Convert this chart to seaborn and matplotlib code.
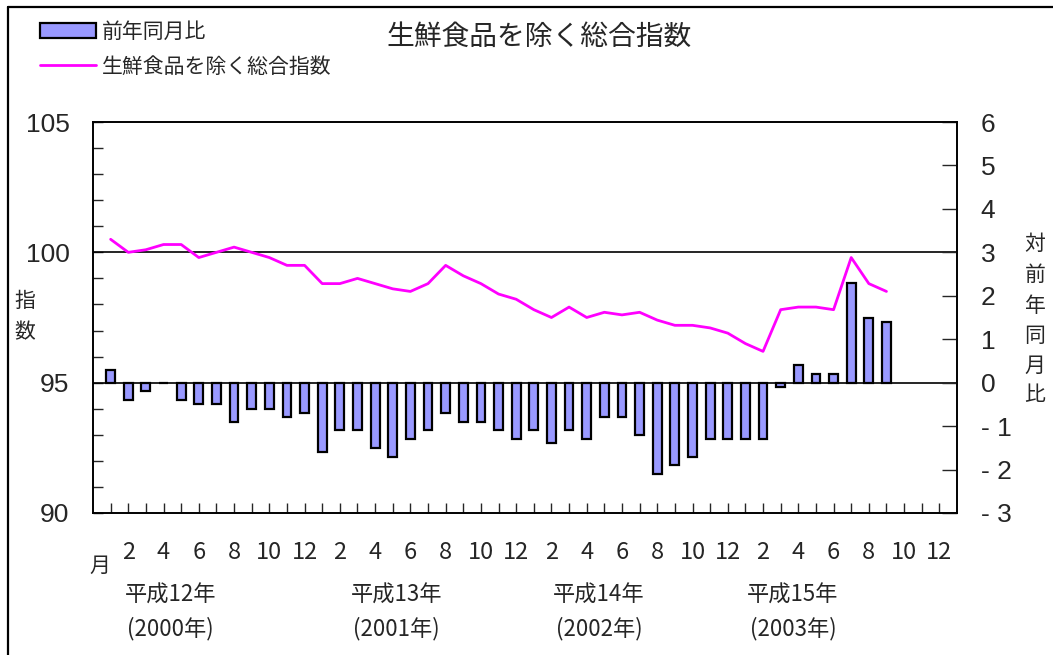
import matplotlib
matplotlib.use("Agg")
import matplotlib.pyplot as plt
import seaborn as sns
from matplotlib.patches import Patch
from matplotlib.lines import Line2D
from matplotlib.ticker import FixedLocator, FixedFormatter, MultipleLocator
from matplotlib.transforms import blended_transform_factory

# months counted from Jan 2000 (1) to Sep 2003 (45)
months = list(range(1, 46))

# 生鮮食品を除く総合指数 (left axis)
index_vals = [100.5, 100.0, 100.1, 100.3, 100.3, 99.8, 100.0, 100.2, 100.0, 99.8, 99.5, 99.5,
              98.8, 98.8, 99.0, 98.8, 98.6, 98.5, 98.8, 99.5, 99.1, 98.8, 98.4, 98.2,
              97.8, 97.5, 97.9, 97.5, 97.7, 97.6, 97.7, 97.4, 97.2, 97.2, 97.1, 96.9,
              96.5, 96.2, 97.8, 97.9, 97.9, 97.8, 99.8, 98.8, 98.5]

# 前年同月比 (right axis, %)
yoy_vals = [0.3, -0.4, -0.2, 0.0, -0.4, -0.5, -0.5, -0.9, -0.6, -0.6, -0.8, -0.7,
            -1.6, -1.1, -1.1, -1.5, -1.7, -1.3, -1.1, -0.7, -0.9, -0.9, -1.1, -1.3,
            -1.1, -1.4, -1.1, -1.3, -0.8, -0.8, -1.2, -2.1, -1.9, -1.7, -1.3, -1.3,
            -1.3, -1.3, -0.1, 0.4, 0.2, 0.2, 2.3, 1.5, 1.4]

month_ticks = list(range(1, 49))
month_labels = [str((m - 1) % 12 + 1) if m % 2 == 0 else "" for m in month_ticks]
right_ticks = list(range(-3, 7))
right_labels = ["- 3", "- 2", "- 1", "0", "1", "2", "3", "4", "5", "6"]
year_labels = ["平成12年\n(2000年)", "平成13年\n(2001年)", "平成14年\n(2002年)", "平成15年\n(2003年)"]
year_pos = [4.4, 17.2, 28.7, 39.7]

sns.set_style("white")
plt.rcParams["font.family"] = ["Liberation Sans", "Noto Sans CJK JP", "DejaVu Sans"]
narrow = ["Liberation Sans Narrow", "Noto Sans CJK JP", "DejaVu Sans"]

fig = plt.figure(figsize=(10.53, 6.55), dpi=100)
ax = fig.add_axes([93 / 1053, 1 - 513 / 655, (957 - 93) / 1053, (513 - 122) / 655])
ax2 = ax.twinx()

# index line and reference lines
ax.axhline(100, color="black", lw=1.2, zorder=1)
ax.axhline(95, color="black", lw=1.2, zorder=1)
sns.lineplot(x=months, y=index_vals, ax=ax, color="#FF00FF", linewidth=2.0)

# year-on-year bars
sns.barplot(x=months, y=yoy_vals, ax=ax2, native_scale=True, width=0.5,
            color="#9999FF", saturation=1, edgecolor="black", linewidth=1.6,
            errorbar=None)

ax.set_xlim(0, 49)
ax.set_ylim(90, 105)
ax2.set_ylim(-3, 6)

ax.yaxis.set_major_locator(FixedLocator([90, 95, 100, 105]))
ax.yaxis.set_minor_locator(MultipleLocator(1))
ax.tick_params(axis="y", which="both", direction="in", length=7, width=1,
               labelsize=19, pad=17, left=True, right=False)
ax.xaxis.set_major_locator(FixedLocator(month_ticks))
ax.xaxis.set_major_formatter(FixedFormatter(month_labels))
ax.tick_params(axis="x", direction="in", length=7, width=1, pad=20, bottom=True)
for lab in ax.get_xticklabels():
    lab.set_family(narrow)
    lab.set_fontsize(17)

ax2.yaxis.set_major_locator(FixedLocator(right_ticks))
ax2.yaxis.set_major_formatter(FixedFormatter(right_labels))
ax2.tick_params(axis="y", direction="in", length=11, width=1, labelsize=19, pad=17,
                right=True, left=False)
ax2.tick_params(axis="x", bottom=False, top=False, labelbottom=False)
ax2.set_xlabel("")
ax2.set_ylabel("")
ax.set_xlabel("")
ax.set_ylabel("")

for a in (ax, ax2):
    for sp in a.spines.values():
        sp.set_visible(True)
        sp.set_color("black")
        sp.set_linewidth(1.2)

# year captions under the month labels
trans = blended_transform_factory(ax.transData, fig.transFigure)
for pos, lab in zip(year_pos, year_labels):
    ax.text(pos, 1 - 612 / 655, lab, transform=trans, ha="center", va="center",
            fontsize=16, family=narrow, linespacing=1.55)

fig.text(100 / 1053, 1 - 566 / 655, "月", ha="center", va="center", fontsize=15,
         family=narrow)
fig.text(25 / 1053, 1 - 317 / 655, "指\n数", ha="center", va="center", fontsize=15,
         linespacing=1.75)
fig.text(1035 / 1053, 1 - 320 / 655, "対\n前\n年\n同\n月\n比", ha="center",
         va="center", fontsize=15, linespacing=1.72)

fig.text(539 / 1053, 1 - 38 / 655, "生鮮食品を除く総合指数", ha="center", va="center",
         fontsize=20)

handles = [Patch(facecolor="#9999FF", edgecolor="black", linewidth=1.6),
           Line2D([], [], color="#FF00FF", lw=2.0)]
fig.legend(handles, ["前年同月比", "生鮮食品を除く総合指数"], loc="upper left",
           bbox_to_anchor=(40 / 1053, 1 - 22 / 655), frameon=False, fontsize=15,
           handlelength=2.7, handletextpad=0.25, borderpad=0, borderaxespad=0,
           labelspacing=0.72)

# outer frame (top and left edges visible)
fig.add_artist(Line2D([8 / 1053, 1.0], [1 - 7 / 655, 1 - 7 / 655], color="black",
                      lw=1.6, transform=fig.transFigure))
fig.add_artist(Line2D([8 / 1053, 8 / 1053], [0.0, 1 - 7 / 655], color="black",
                      lw=1.6, transform=fig.transFigure))

fig.savefig("out.png", dpi=100)
